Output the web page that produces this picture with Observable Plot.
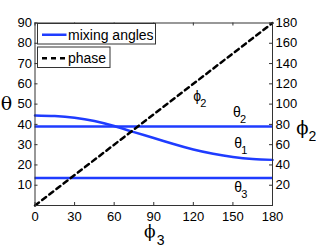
<!DOCTYPE html>
<html><head><meta charset="utf-8">
<script src="https://cdn.jsdelivr.net/npm/d3@7"></script>
<script src="https://cdn.jsdelivr.net/npm/@observablehq/plot@0.6"></script>
<style>body{margin:0;background:#fff;} svg{display:block}</style>
</head><body><div id="chart"></div>
<script>
// data
const phi3 = [0, 15, 30, 45, 60, 75, 90, 105, 120, 135, 150, 165, 180];
const theta1 = [44.4, 44.1, 43.3, 41.7, 39.2, 36.2, 33.3, 30.3, 27.6, 25.5, 23.9, 22.9, 22.5];
const theta2 = [39.0];
const theta3 = [13.6];
const phasePhi3 = [0, 180];
const phasePhi2 = [0, 180];
const xTicks = [0, 30, 60, 90, 120, 150, 180];
const leftTicks = [10, 20, 30, 40, 50, 60, 70, 80, 90];
const rightTicks = [20, 40, 60, 80, 100, 120, 140, 160, 180];
const legendItems = ["mixing angles", "phase"];
const curveLabels = [
  {x: 153, y: 46.0, sym: "θ", sub: "2"},
  {x: 154, y: 30.7, sym: "θ", sub: "1"},
  {x: 154, y: 9.0, sym: "θ", sub: "3"},
  {x: 123, y: 53.7, sym: "ϕ", sub: "2"}
];

const W = 316, H = 249;
const ml = 34.5, mr = 44, mt = 22.5, mb = 44;
const fw = W - ml - mr, fh = H - mt - mb;
const blue = "#1f3cff";
const axisColor = "#333";

const thetaData = phi3.map((x, i) => ({x, y: theta1[i]}));
const phaseData = phasePhi3.map((x, i) => ({x, phi2: phasePhi2[i]}));

const chart = Plot.plot({
  width: W, height: H,
  marginLeft: ml, marginRight: mr, marginTop: mt, marginBottom: mb,
  style: {fontFamily: "'Liberation Sans', Arial, sans-serif", fontSize: "13px", background: "#fff", color: "#000"},
  x: {domain: [0, 180]},
  y: {domain: [0, 90]},
  marks: [
    Plot.ruleY(theta2, {y: d => d, stroke: blue, strokeWidth: 2.5}),
    Plot.ruleY(theta3, {y: d => d, stroke: blue, strokeWidth: 2.5}),
    Plot.line(thetaData, {x: "x", y: "y", stroke: blue, strokeWidth: 2.5, curve: "natural"}),
    Plot.line(phaseData, {x: "x", y: d => d.phi2 / 2, stroke: "#000", strokeWidth: 2.5, strokeDasharray: "5,4"}),
    Plot.frame({stroke: axisColor}),
    Plot.tickX(xTicks, {x: d => d, insetTop: fh - 3, stroke: axisColor}),
    Plot.tickX(xTicks, {x: d => d, insetBottom: fh - 3, stroke: axisColor}),
    Plot.tickY(leftTicks, {y: d => d, insetRight: fw - 3, stroke: axisColor}),
    Plot.tickY(leftTicks, {y: d => d, insetLeft: fw - 3, stroke: axisColor}),
    Plot.axisX(xTicks, {anchor: "bottom", tickSize: 0, tickPadding: 6, label: null, fontSize: 13}),
    Plot.axisY(leftTicks, {anchor: "left", tickSize: 0, tickPadding: 3, label: null, fontSize: 13}),
    Plot.axisY(rightTicks.map(d => d / 2), {anchor: "right", tickSize: 0, tickPadding: 3, label: null, fontSize: 13, tickFormat: d => String(d * 2)}),
    // curve labels
    Plot.text(curveLabels, {x: "x", y: "y", text: "sym", fontSize: 14, textAnchor: "middle"}),
    Plot.text(curveLabels, {x: "x", y: "y", text: "sub", fontSize: 11, textAnchor: "start", dx: 3, dy: 7}),
    // axis labels
    Plot.text(["θ"], {text: d => d, frameAnchor: "left", dx: -28.5, dy: -10, fontSize: 19, textAnchor: "middle", fontFamily: "'DejaVu Serif', serif"}),
    Plot.text(["ϕ"], {text: d => d, frameAnchor: "bottom", dx: -4, dy: 31.5, fontSize: 17, textAnchor: "middle", fontFamily: "'DejaVu Serif', serif"}),
    Plot.text(["3"], {text: d => d, frameAnchor: "bottom", dx: 3, dy: 39.5, fontSize: 14, textAnchor: "start"}),
    Plot.text(["ϕ"], {text: d => d, frameAnchor: "right", dx: 30, dy: 14, fontSize: 18, textAnchor: "middle", fontFamily: "'DejaVu Serif', serif"}),
    Plot.text(["2"], {text: d => d, frameAnchor: "right", dx: 36, dy: 22, fontSize: 14, textAnchor: "start"})
  ]
});

// legend boxes
const svg = d3.select(chart);
const lg = svg.append("g").attr("font-family", "'Liberation Sans', Arial, sans-serif").attr("font-size", 14).attr("text-anchor", "start");
const boxes = [
  {x: 37.5, y: 23.5, w: 118, h: 20.5, dash: null, color: blue},
  {x: 37.5, y: 47, w: 72.5, h: 20.5, dash: "5,4", color: "#000"}
];
legendItems.forEach((label, i) => {
  const b = boxes[i];
  lg.append("rect").attr("x", b.x).attr("y", b.y).attr("width", b.w).attr("height", b.h)
    .attr("fill", "#fff").attr("stroke", axisColor).attr("stroke-width", 1);
  lg.append("line").attr("x1", b.x + 4.5).attr("x2", b.x + 29).attr("y1", b.y + b.h / 2 + 1).attr("y2", b.y + b.h / 2 + 1)
    .attr("stroke", b.color).attr("stroke-width", 2.5).attr("stroke-dasharray", b.dash);
  lg.append("text").attr("x", b.x + 30.5).attr("y", b.y + b.h / 2 + 1).attr("dy", "0.35em").attr("text-anchor", "start").text(label);
});

document.getElementById("chart").appendChild(chart);
</script>
</body></html>
